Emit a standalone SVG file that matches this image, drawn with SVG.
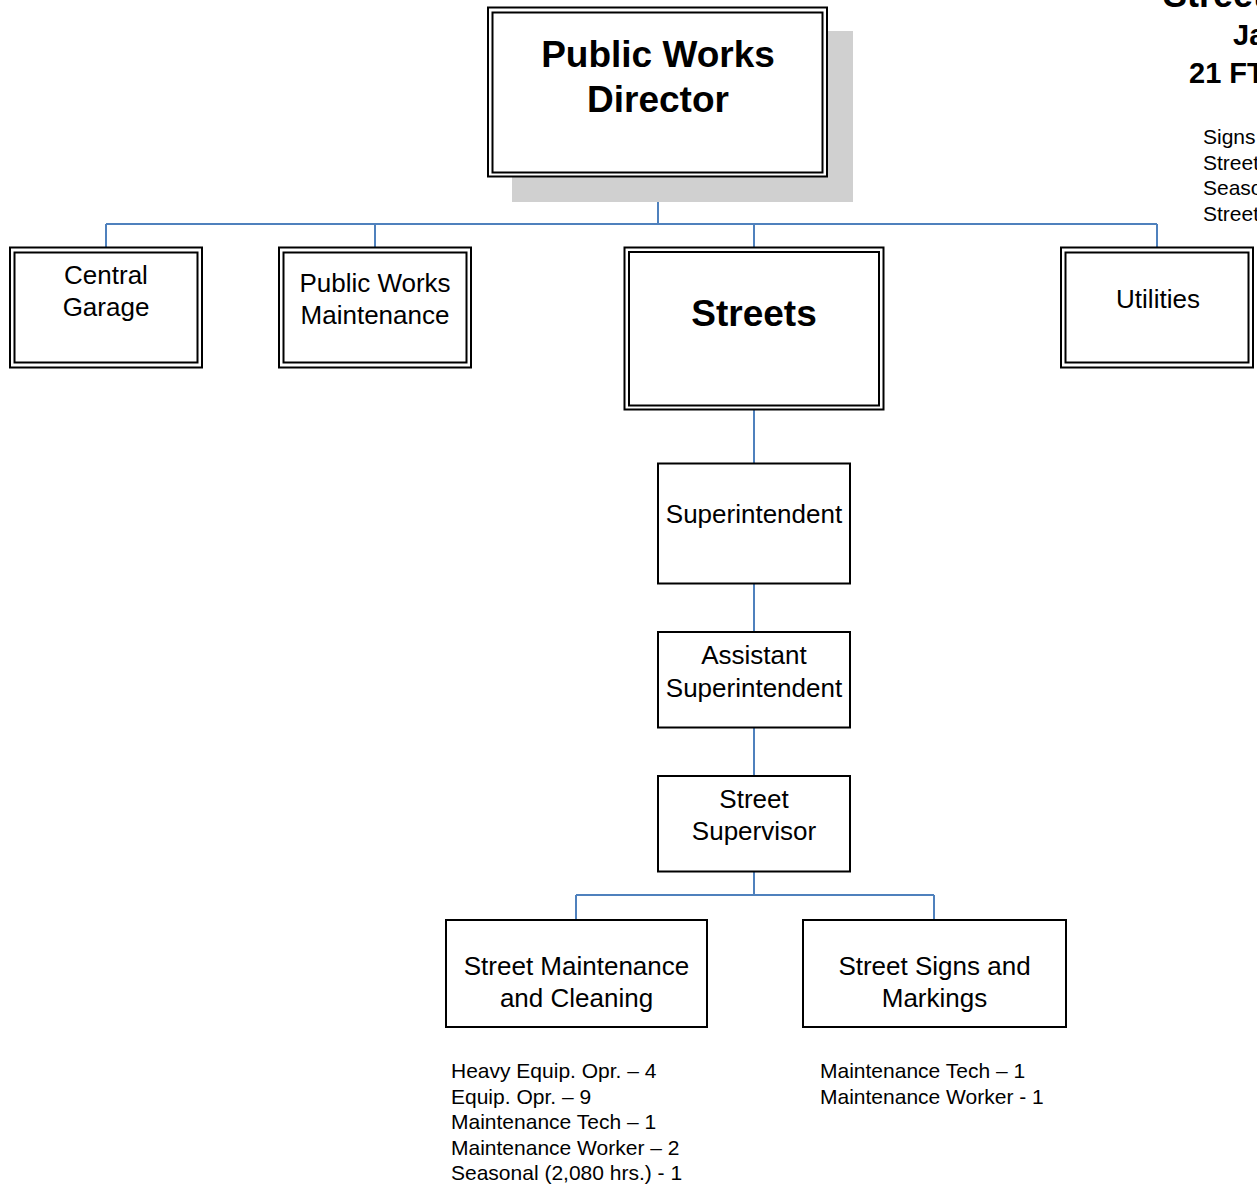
<svg xmlns="http://www.w3.org/2000/svg" width="1257" height="1193" viewBox="0 0 1257 1193">
<style>
  text { font-family: "Liberation Sans", Arial, sans-serif; fill: #000; }
  .lbl { font-size: 26px; text-anchor: middle; }
  .big { font-size: 37px; font-weight: bold; text-anchor: middle; }
  .ttl { font-size: 29px; font-weight: bold; }
  .ttl.top { font-size: 36px; }
  .lst { font-size: 21px; }
  .box { fill: #fff; stroke: #000; stroke-width: 2; }
  .in { fill: none; stroke: #000; stroke-width: 2; }
  .conn { fill: none; stroke: #4F81BD; stroke-width: 2; }
</style>
<rect width="1257" height="1193" fill="#fff"/>

<g id="connectors">
  <path class="conn" d="M658 177 V224 M106 224 H1157 M106 224 V248 M375 224 V248 M754 224 V248 M1157 224 V248"/>
  <path class="conn" d="M754 410 V463 M754 584 V632 M754 728 V776 M754 872 V895 M576 895 H934 M576 895 V920 M934 895 V920"/>
</g>

<g id="director">
  <rect x="512" y="31" width="341" height="171" fill="#d0d0d0"/>
  <rect class="box" x="488" y="7.5" width="339" height="169"/>
  <rect class="in" x="492.5" y="12.5" width="330" height="160"/>
  <text class="big" x="658" y="67">Public Works</text>
  <text class="big" x="658" y="112">Director</text>
</g>

<g id="central-garage">
  <rect class="box" x="10" y="247.5" width="192" height="120"/>
  <rect class="in" x="14.5" y="252.5" width="183" height="110"/>
  <text class="lbl" x="106" y="284">Central</text>
  <text class="lbl" x="106" y="316">Garage</text>
</g>

<g id="pw-maintenance">
  <rect class="box" x="279" y="247.5" width="192" height="120"/>
  <rect class="in" x="283.5" y="252.5" width="183" height="110"/>
  <text class="lbl" x="375" y="292">Public Works</text>
  <text class="lbl" x="375" y="324">Maintenance</text>
</g>

<g id="streets">
  <rect class="box" x="624.5" y="247.5" width="259" height="162"/>
  <rect class="in" x="629" y="252" width="250" height="153.5"/>
  <text class="big" x="754" y="326">Streets</text>
</g>

<g id="utilities">
  <rect class="box" x="1061" y="247.5" width="192" height="120"/>
  <rect class="in" x="1065.5" y="252.5" width="183" height="110"/>
  <text class="lbl" x="1158" y="308">Utilities</text>
</g>

<g id="superintendent">
  <rect class="box" x="658" y="463.5" width="192" height="120"/>
  <text class="lbl" x="754" y="523">Superintendent</text>
</g>

<g id="assistant-superintendent">
  <rect class="box" x="658" y="632" width="192" height="95.5"/>
  <text class="lbl" x="754" y="664">Assistant</text>
  <text class="lbl" x="754" y="697">Superintendent</text>
</g>

<g id="street-supervisor">
  <rect class="box" x="658" y="776" width="192" height="95.5"/>
  <text class="lbl" x="754" y="808">Street</text>
  <text class="lbl" x="754" y="840">Supervisor</text>
</g>

<g id="street-maintenance">
  <rect class="box" x="446" y="920" width="261" height="107"/>
  <text class="lbl" x="576.5" y="975">Street Maintenance</text>
  <text class="lbl" x="576.5" y="1007">and Cleaning</text>
  <text class="lst" x="451" y="1078">Heavy Equip. Opr. – 4</text>
  <text class="lst" x="451" y="1103.5">Equip. Opr. – 9</text>
  <text class="lst" x="451" y="1129">Maintenance Tech – 1</text>
  <text class="lst" x="451" y="1154.5">Maintenance Worker – 2</text>
  <text class="lst" x="451" y="1180">Seasonal (2,080 hrs.) - 1</text>
</g>

<g id="street-signs">
  <rect class="box" x="803" y="920" width="263" height="107"/>
  <text class="lbl" x="934.5" y="975">Street Signs and</text>
  <text class="lbl" x="934.5" y="1007">Markings</text>
  <text class="lst" x="820" y="1078">Maintenance Tech – 1</text>
  <text class="lst" x="820" y="1103.5">Maintenance Worker - 1</text>
</g>

<g id="title">
  <text class="ttl top" x="1163" y="7">Streets</text>
  <text class="ttl" x="1233" y="45">Ja</text>
  <text class="ttl" x="1189" y="83">21 FT</text>
  <text class="lst" x="1203" y="144">Signs</text>
  <text class="lst" x="1203" y="169.5">Street</text>
  <text class="lst" x="1203" y="195">Seasonal</text>
  <text class="lst" x="1203" y="220.5">Street</text>
</g>
</svg>
